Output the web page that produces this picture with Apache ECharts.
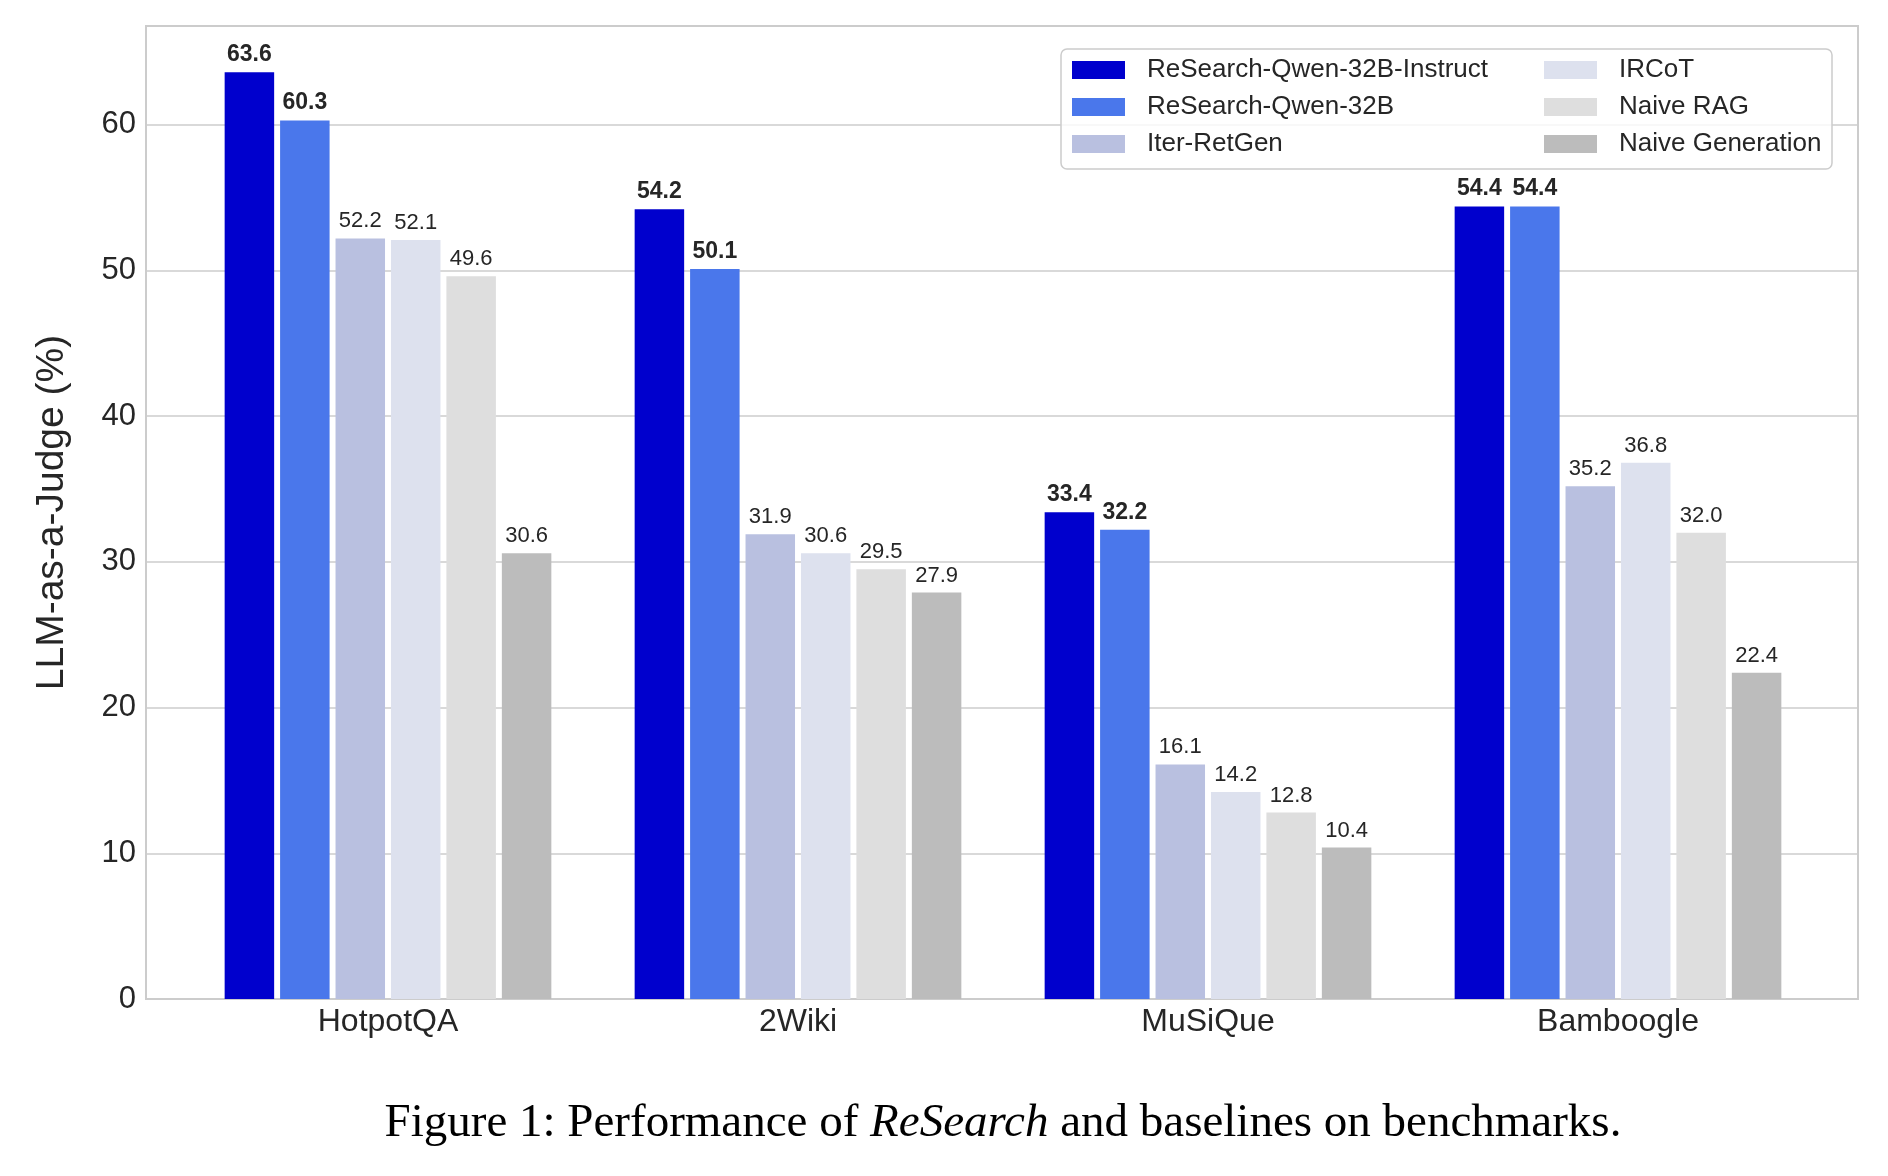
<!DOCTYPE html>
<html>
<head>
<meta charset="utf-8">
<script src="https://cdn.jsdelivr.net/npm/echarts@6/dist/echarts.min.js"></script>
<style>
  html, body { margin: 0; padding: 0; background: #ffffff; }
  #chart { width: 1888px; height: 1176px; }
</style>
</head>
<body>
<div id="chart"></div>
<script>
// ---- data ----
const categories = ['HotpotQA', '2Wiki', 'MuSiQue', 'Bamboogle'];
const seriesNames = ['ReSearch-Qwen-32B-Instruct', 'ReSearch-Qwen-32B', 'Iter-RetGen', 'IRCoT', 'Naive RAG', 'Naive Generation'];
const researchInstruct = [63.6, 54.2, 33.4, 54.4];
const researchBase = [60.3, 50.1, 32.2, 54.4];
const iterRetGen = [52.2, 31.9, 16.1, 35.2];
const ircot = [52.1, 30.6, 14.2, 36.8];
const naiveRag = [49.6, 29.5, 12.8, 32.0];
const naiveGen = [30.6, 27.9, 10.4, 22.4];
const yTicks = [0, 10, 20, 30, 40, 50, 60];
const yMax = 66.78;
const captionText = 'Figure 1: Performance of {i|ReSearch} and baselines on benchmarks.';

// ---- style ----
const colors = ['#0000cd', '#4a77eb', '#b9c0e0', '#dde1ee', '#dedede', '#bcbcbc'];
const boldFlags = [true, true, false, false, false, false];
const sans = 'Liberation Sans, Arial, Helvetica, sans-serif';
const serif = 'Liberation Serif, Times New Roman, serif';
const textColor = '#262626';

const allValues = [researchInstruct, researchBase, iterRetGen, ircot, naiveRag, naiveGen];

const chart = echarts.init(document.getElementById('chart'), null, { renderer: 'canvas' });

const series = seriesNames.map((name, i) => ({
  name: name,
  type: 'bar',
  xAxisIndex: 1,
  yAxisIndex: 1,
  data: allValues[i],
  barWidth: 49.5,
  barGap: '12%',
  itemStyle: { color: colors[i] },
  label: {
    show: true,
    position: 'top',
    distance: 6,
    formatter: p => Number(p.value).toFixed(1),
    fontSize: boldFlags[i] ? 23 : 22,
    fontFamily: sans,
    fontWeight: boldFlags[i] ? 'bold' : 'normal',
    color: textColor
  }
}));

const legendCommon = {
  orient: 'vertical',
  icon: 'rect',
  padding: 0,
  itemWidth: 53,
  itemHeight: 18,
  itemGap: 11,
  selectedMode: false,
  textStyle: {
    fontSize: 26,
    fontFamily: sans,
    color: textColor,
    padding: [0, 0, 0, 17]
  }
};

const option = {
  animation: false,
  backgroundColor: '#ffffff',
  grid: [
    { left: 146, right: 30, top: 26, bottom: 177, show: true, borderColor: '#cccccc', borderWidth: 2, containLabel: false },
    { left: 183, right: 65, top: 26, bottom: 177, containLabel: false }
  ],
  xAxis: [
    { type: 'value', gridIndex: 0, show: false, min: 0, max: 1 },
    {
      type: 'category', gridIndex: 1, data: categories,
      axisLine: { show: false }, axisTick: { show: false },
      splitLine: { show: false },
      axisLabel: { fontSize: 32, fontFamily: sans, color: textColor, margin: 7 }
    }
  ],
  yAxis: [
    {
      type: 'value', gridIndex: 0, min: 0, max: yMax, interval: 10,
      axisLine: { show: false }, axisTick: { show: false },
      splitLine: { show: true, lineStyle: { color: '#cccccc', width: 1.5 } },
      axisLabel: {
        fontSize: 31, fontFamily: sans, color: textColor, margin: 10,
        formatter: v => (yTicks.indexOf(Math.round(v * 100) / 100) >= 0 ? String(v) : '')
      },
      name: 'LLM-as-a-Judge (%)',
      nameLocation: 'middle',
      nameGap: 74,
      nameTextStyle: { fontSize: 39, fontFamily: sans, color: textColor }
    },
    { type: 'value', gridIndex: 1, min: 0, max: yMax, show: false, splitLine: { show: false } }
  ],
  legend: [
    Object.assign({ left: 1072, top: 57, data: seriesNames.slice(0, 3) }, legendCommon),
    Object.assign({ left: 1544, top: 57, data: seriesNames.slice(3, 6) }, legendCommon)
  ],
  graphic: [
    {
      type: 'rect', z: 3,
      shape: { x: 1061, y: 49, width: 771, height: 120, r: 6 },
      style: { fill: 'rgba(255,255,255,0.8)', stroke: '#cccccc', lineWidth: 1.5 }
    },
    {
      type: 'text', z: 5,
      x: 1003, y: 1124,
      style: {
        text: captionText,
        align: 'center',
        verticalAlign: 'middle',
        fontSize: 47,
        fontFamily: serif,
        fill: '#000000',
        rich: { i: { fontStyle: 'italic', fontSize: 47, fontFamily: serif, fill: '#000000' } }
      }
    }
  ],
  series: series
};

chart.setOption(option);
</script>
</body>
</html>
